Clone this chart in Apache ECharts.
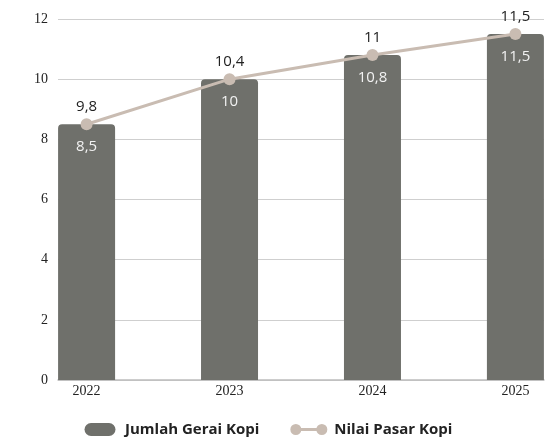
<!DOCTYPE html>
<html>
<head>
<meta charset="utf-8">
<script src="https://cdn.jsdelivr.net/npm/echarts@6/dist/echarts.min.js"></script>
<style>
  html, body { margin: 0; padding: 0; background: #fff; }
  #chart { width: 549px; height: 443px; }
</style>
</head>
<body>
<div id="chart"></div>
<script>
// data
var years = ["2022", "2023", "2024", "2025"];
var jumlahGerai = [8.5, 10, 10.8, 11.5];
var nilaiPasar = [9.8, 10.4, 11, 11.5];
var yTicks = [0, 2, 4, 6, 8, 10, 12];

var barColor = "#6f706b";
var lineColor = "#c9bcb2";

function koma(v) {
  return String(v).replace(".", ",");
}

// legend icons, drawn in a 40x14 box (the M0,0 M40,14 keep the box size)
var pillIcon = "path://M0,0 M40,14 M11,0.5 L29,0.5 A6.5,6.5 0 0 1 29,13.5 L11,13.5 A6.5,6.5 0 0 1 11,0.5 Z";
var dumbbellIcon = "path://M0,0 M40,14 " +
  "M1,7 A5.5,5.5 0 1 1 12,7 A5.5,5.5 0 1 1 1,7 Z " +
  "M27,7 A5.5,5.5 0 1 1 38,7 A5.5,5.5 0 1 1 27,7 Z " +
  "M10,5.5 L29,5.5 L29,8.5 L10,8.5 Z";

var chart = echarts.init(document.getElementById("chart"));

// in the picture the line points sit on the bar tops, the labels show nilai pasar
var barData = jumlahGerai.map(function (v, i) { return [i, v]; });
var lineData = jumlahGerai.map(function (v, i) { return [i, v]; });

chart.setOption({
  animation: false,
  grid: { left: 58, right: 5, top: 19, bottom: 63 },
  xAxis: {
    type: "value",
    min: -0.2,
    max: 3.2,
    splitLine: { show: false },
    axisTick: { show: false },
    axisLine: { show: true, lineStyle: { color: "#bdbdbd", width: 1.5 } },
    axisLabel: {
      customValues: [0, 1, 2, 3],
      formatter: function (v) { return years[Math.round(v)]; },
      fontFamily: "Liberation Serif",
      fontSize: 14,
      color: "#222",
      margin: 4
    }
  },
  yAxis: {
    type: "value",
    min: yTicks[0],
    max: yTicks[yTicks.length - 1],
    interval: 2,
    axisLine: { show: false },
    axisTick: { show: false },
    splitLine: { lineStyle: { color: "#cfcfcf" } },
    axisLabel: {
      fontFamily: "Liberation Serif",
      fontSize: 14,
      color: "#222",
      margin: 10
    }
  },
  legend: {
    top: 417,
    left: 75,
    itemGap: 30,
    itemWidth: 40,
    itemHeight: 14,
    textStyle: {
      fontFamily: "Open Sans",
      fontWeight: "bold",
      fontSize: 15,
      color: "#222"
    },
    data: [
      { name: "Jumlah Gerai Kopi", icon: pillIcon },
      { name: "Nilai Pasar Kopi", icon: dumbbellIcon }
    ]
  },
  series: [
    {
      name: "Jumlah Gerai Kopi",
      type: "bar",
      data: barData,
      barWidth: 57,
      itemStyle: { color: barColor, borderRadius: [4, 4, 0, 0] },
      label: {
        show: true,
        position: "insideTop",
        distance: 15,
        color: "#f2f2f2",
        fontFamily: "Open Sans",
        fontSize: 15,
        formatter: function (p) { return koma(p.value[1]); }
      }
    },
    {
      name: "Nilai Pasar Kopi",
      type: "line",
      data: lineData,
      symbol: "circle",
      symbolSize: 12,
      itemStyle: { color: lineColor },
      lineStyle: { color: lineColor, width: 3 },
      label: {
        show: true,
        position: "top",
        distance: 4,
        color: "#222",
        fontFamily: "Open Sans",
        fontSize: 15,
        formatter: function (p) { return koma(nilaiPasar[p.dataIndex]); }
      },
      z: 3
    }
  ]
});
</script>
</body>
</html>
